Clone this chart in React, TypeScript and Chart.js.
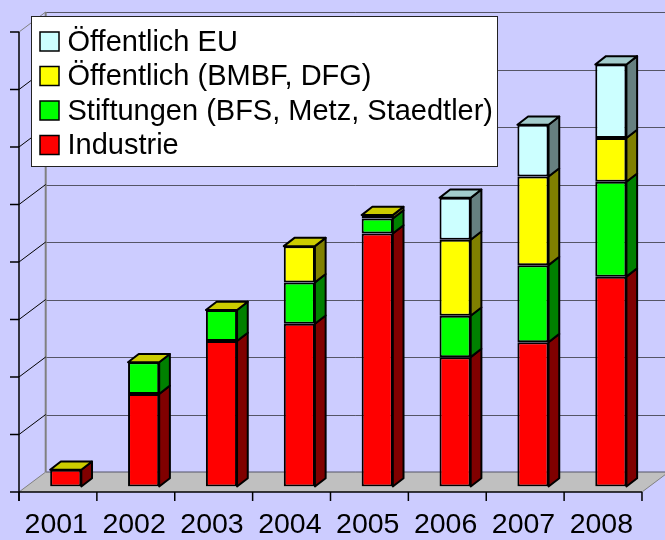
import React, { useEffect, useRef } from 'react';
import { Chart, registerables } from 'chart.js';

Chart.register(...registerables);

// ---- data ----
const years = ['2001', '2002', '2003', '2004', '2005', '2006', '2007', '2008'];
const industrie = [29, 161, 253, 283, 440, 225, 251, 365];
const stiftungen = [0, 55, 54, 72, 26, 72, 134, 165];
const bmbfDfg = [0, 0, 0, 63, 6, 132, 154, 76];
const euFunds = [null, null, null, null, null, 73, 90, 128];
const seriesNames = ['Industrie', 'Stiftungen (BFS, Metz, Staedtler)', 'Öffentlich (BMBF, DFG)', 'Öffentlich EU'];
const yMax = 800;
const yStep = 100;

// ---- styles ----
const frontColors = ['#FF0000', '#00FF00', '#FFFF00', '#CCFFFF'];
const sideColors = ['#800000', '#008000', '#808000', '#668080'];
const topColors = ['#CC0000', '#00CC00', '#CCCC00', '#A3CCCC'];
const BG = '#CCCCFF';
const FONT = "'Liberation Sans', Arial, sans-serif";

const FRONT_DX = -7.8, FRONT_DY = 5.5;
const BACK_DX = 18.9, BACK_DY = -14.5;
const BAR_DX = 10.7, BAR_DY = -8.3;

const line = (ctx: CanvasRenderingContext2D, x1: number, y1: number, x2: number, y2: number) => {
  ctx.beginPath();
  ctx.moveTo(x1, y1);
  ctx.lineTo(x2, y2);
  ctx.stroke();
};

const fake3d = {
  id: 'fake3d',
  beforeDraw(chart: any) {
    const { ctx, width, height } = chart;
    ctx.save();
    ctx.fillStyle = BG;
    ctx.fillRect(0, 0, width, height);
    ctx.restore();
  },
  beforeDatasetsDraw(chart: any) {
    const { ctx, width } = chart;
    const x = chart.scales.x, y = chart.scales.y;
    const catW = (x.right - x.left) / years.length;
    const y0 = y.getPixelForValue(0);
    const yTop = y.getPixelForValue(yMax);
    const fl = x.left + FRONT_DX, fr = x.right + FRONT_DX, fy = y0 + FRONT_DY;
    const bl = x.left + BACK_DX, br = x.right + BACK_DX, by = y0 + BACK_DY;
    ctx.save();
    // floor
    ctx.fillStyle = '#C0C0C0';
    ctx.beginPath();
    ctx.moveTo(fl, fy); ctx.lineTo(fr, fy); ctx.lineTo(br, by); ctx.lineTo(bl, by);
    ctx.closePath();
    ctx.fill();
    // back wall gridlines
    ctx.strokeStyle = '#555566';
    ctx.lineWidth = 1;
    for (let v = yStep; v <= yMax; v += yStep) {
      const py = Math.round(y.getPixelForValue(v) + BACK_DY) + 0.5;
      line(ctx, bl, py, width + 40, py);
    }
    line(ctx, bl, by, br, by);
    // floor side edges
    ctx.strokeStyle = '#808080';
    line(ctx, fr, fy, br, by);
    // back wall left edge
    ctx.strokeStyle = '#808080';
    ctx.lineWidth = 2;
    line(ctx, bl, yTop + BACK_DY, bl, by);
    // diagonals side wall
    ctx.lineWidth = 1;
    for (let v = yStep; v <= yMax; v += yStep) {
      const p = y.getPixelForValue(v);
      ctx.strokeStyle = v === yMax ? '#808080' : '#000000';
      line(ctx, fl, p + FRONT_DY, bl, p + BACK_DY);
    }
    ctx.strokeStyle = '#808080';
    line(ctx, fl, fy, bl, by);
    // front axes
    ctx.strokeStyle = '#000000';
    ctx.lineWidth = 1.5;
    line(ctx, fl, yTop + FRONT_DY, fl, fy + 9);
    line(ctx, fl, fy, fr, fy);
    for (let v = 0; v <= yMax; v += yStep) {
      const py = y.getPixelForValue(v) + FRONT_DY;
      line(ctx, fl - 9, py, fl, py);
    }
    for (let i = 0; i <= years.length; i++) {
      const xi = fl + i * catW;
      line(ctx, xi, fy, xi, fy + 9);
    }
    ctx.restore();
  },
  afterDatasetsDraw(chart: any) {
    const { ctx } = chart;
    const dsets = chart.data.datasets;
    ctx.save();
    ctx.strokeStyle = '#000000';
    ctx.lineWidth = 2;
    ctx.lineJoin = 'round';
    for (let j = 0; j < years.length; j++) {
      let topIdx = -1;
      for (let i = 0; i < dsets.length; i++) {
        if (dsets[i].data[j] !== null && dsets[i].data[j] !== undefined) topIdx = i;
      }
      for (let i = 0; i < dsets.length; i++) {
        const val = dsets[i].data[j];
        if (val === null || val === undefined) continue;
        const el = chart.getDatasetMeta(i).data[j];
        if (!el) continue;
        const p = el.getProps(['x', 'y', 'base', 'width'], true);
        const xl = p.x - p.width / 2, xr = p.x + p.width / 2;
        const t = Math.min(p.y, p.base), b = Math.max(p.y, p.base);
        if (b - t > 0.3) {
          ctx.fillStyle = sideColors[i];
          ctx.beginPath();
          ctx.moveTo(xr, t); ctx.lineTo(xr + BAR_DX, t + BAR_DY);
          ctx.lineTo(xr + BAR_DX, b + BAR_DY); ctx.lineTo(xr, b);
          ctx.closePath();
          ctx.fill();
          ctx.stroke();
        }
        if (i === topIdx) {
          ctx.fillStyle = topColors[i];
          ctx.beginPath();
          ctx.moveTo(xl, t); ctx.lineTo(xl + BAR_DX, t + BAR_DY);
          ctx.lineTo(xr + BAR_DX, t + BAR_DY); ctx.lineTo(xr, t);
          ctx.closePath();
          ctx.fill();
          ctx.stroke();
        }
      }
    }
    ctx.restore();
  },
  afterDraw(chart: any) {
    const { ctx } = chart;
    ctx.save();
    const bx = 31.5, byTop = 16.5, bw = 466, bh = 150;
    ctx.fillStyle = '#FFFFFF';
    ctx.fillRect(bx, byTop, bw, bh);
    ctx.strokeStyle = '#222222';
    ctx.lineWidth = 1;
    ctx.strokeRect(bx, byTop, bw, bh);
    ctx.font = `29px ${FONT}`;
    ctx.textBaseline = 'middle';
    ctx.textAlign = 'left';
    const order = [3, 2, 1, 0];
    order.forEach((si, k) => {
      const sy = 32 + k * 34.5;
      ctx.fillStyle = frontColors[si];
      ctx.fillRect(40, sy, 19, 19);
      ctx.lineWidth = 1.5;
      ctx.strokeStyle = '#000000';
      ctx.strokeRect(40, sy, 19, 19);
      ctx.fillStyle = '#000000';
      ctx.fillText(seriesNames[si], 67.5, sy + 10.5);
    });
    ctx.restore();
  },
};

export default function App() {
  const ref = useRef<HTMLCanvasElement | null>(null);
  useEffect(() => {
    document.body.style.margin = '0';
    document.body.style.background = BG;
    const canvas = ref.current;
    if (!canvas) return;
    const dataArrays = [industrie, stiftungen, bmbfDfg, euFunds];
    const chart = new Chart(canvas, {
      type: 'bar',
      data: {
        labels: years,
        datasets: dataArrays.map((d, i) => ({
          label: seriesNames[i],
          data: d,
          backgroundColor: frontColors[i],
          borderColor: '#000000',
          borderWidth: 2,
          borderSkipped: false,
          categoryPercentage: 1,
          barPercentage: 0.4,
        })),
      },
      options: {
        responsive: false,
        animation: false,
        devicePixelRatio: 1,
        layout: { padding: { left: 26.8, right: 7.2, top: 26.5, bottom: 0 } },
        plugins: { legend: { display: false }, tooltip: { enabled: false } },
        scales: {
          x: {
            stacked: true,
            grid: { display: false, drawTicks: false },
            border: { display: false },
            ticks: {
              color: '#000000',
              font: { family: FONT, size: 28.5 },
              labelOffset: -9.5,
              padding: 22,
              maxRotation: 0,
              autoSkip: false,
            },
            afterFit: (scale: any) => { scale.height = 53.5; },
          },
          y: {
            stacked: true,
            display: false,
            min: 0,
            max: yMax,
            ticks: { stepSize: yStep },
          },
        },
      } as any,
      plugins: [fake3d],
    });
    return () => chart.destroy();
  }, []);
  return (
    <div style={{ width: 665, height: 540 }}>
      <canvas ref={ref} width={665} height={540} style={{ display: 'block' }} />
    </div>
  );
}
